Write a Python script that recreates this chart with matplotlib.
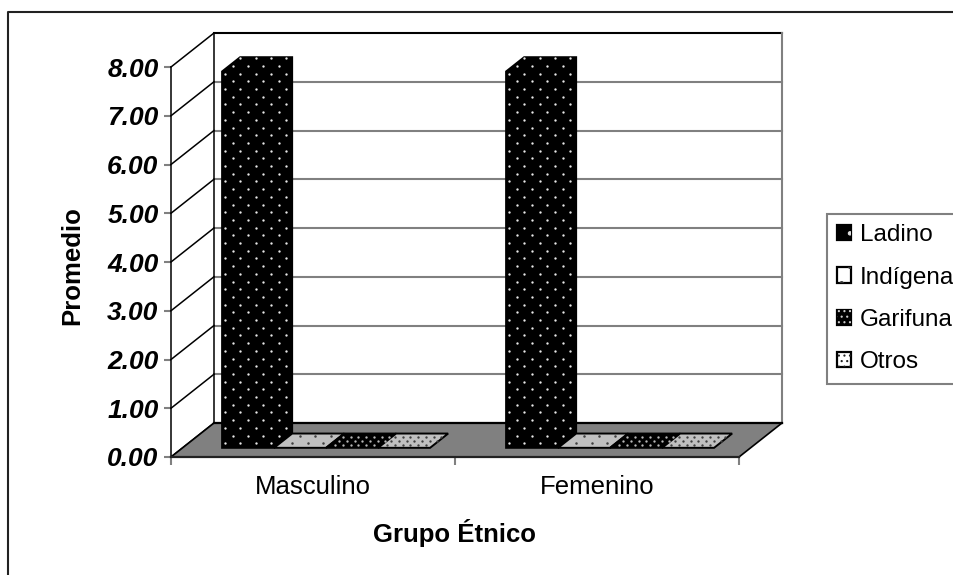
# -*- coding: utf-8 -*-

import numpy as np
import matplotlib
matplotlib.use("Agg")
import matplotlib.pyplot as plt
from matplotlib.legend_handler import HandlerTuple
from matplotlib.lines import Line2D
from matplotlib.patches import Patch, Polygon
from matplotlib.path import Path

plt.rcParams['font.family'] = ['Liberation Sans', 'DejaVu Sans']
plt.rcParams['hatch.linewidth'] = 0.8

categorias = ['Masculino', 'Femenino']
series = ['Ladino', 'Indígena', 'Garifuna', 'Otros']
ladino = [7.72, 7.72]
indigena = [0.0, 0.0]
garifuna = [0.0, 0.0]
otros = [0.0, 0.0]
valores = [ladino, indigena, garifuna, otros]
y_ticks = [0, 1, 2, 3, 4, 5, 6, 7, 8]

W, H = 954, 575
# caja frontal del grafico, en pixeles
X0, X1, Y0, Y1 = 171, 739, 457, 67
PX_X = (X1 - X0) / len(categorias)
PX_Y = (Y0 - Y1) / 8

# vector de profundidad de la perspectiva, en unidades de datos
DX = 43 / PX_X
DY = 34 / PX_Y

# posicion de las barras dentro de cada categoria
BAR_W = 52 / PX_X
BAR_START = 0.139
D_FRONT = 0.27
D_BACK = 0.69

# relleno y puntos de cada serie: cara, punto, paso x, paso y, grosor
estilos = [
    ('#000000', '#e8e8e8', 15.3, 7.7, 1.7),
    ('#c0c0c0', '#404040', 15.3, 7.7, 1.8),
    ('#000000', '#b8b8b8', 7.7, 4.2, 1.7),
    ('#c0c0c0', '#404040', 7.7, 4.2, 1.7),
]
hatches = ['.', '.', '...', '...']
colores_legend = ['#000000', '#ffffff', '#000000', '#ffffff']
colores_hatch = ['#dddddd', '#333333', '#cccccc', '#222222']


def proy(x, y, d):
    # punto (x, y) empujado hacia el fondo una fraccion d
    return (x + d * DX, y + d * DY)


def puntos(ax, poly, estilo):
    # reticula de puntos alternados dentro de un poligono
    _, color, paso_x, paso_y, grosor = estilo
    poly = np.array(poly)
    sx = paso_x / PX_X
    sy = paso_y / PX_Y
    ys = np.arange(poly[:, 1].min() + sy * 0.6, poly[:, 1].max(), sy)
    xs_all, ys_all = [], []
    for i, y in enumerate(ys):
        xs = np.arange(poly[:, 0].min() + sx * (0.2 + 0.5 * (i % 2)), poly[:, 0].max(), sx)
        xs_all.extend(xs)
        ys_all.extend([y] * len(xs))
    pts = np.column_stack([xs_all, ys_all])
    pts = pts[Path(poly).contains_points(pts)]
    ax.plot(pts[:, 0], pts[:, 1], ls='none', marker='o', ms=grosor, mew=0,
            color=color, clip_on=False, zorder=6)


def barra(ax, x, valor, estilo):
    cara = estilo[0]
    x2 = x + BAR_W
    if valor > 0:
        # cara frontal, lateral y superior
        contorno = [proy(x, 0, D_FRONT), proy(x2, 0, D_FRONT), proy(x2, 0, D_BACK),
                    proy(x2, valor, D_BACK), proy(x, valor, D_BACK), proy(x, valor, D_FRONT)]
    else:
        contorno = [proy(x, 0, D_FRONT), proy(x2, 0, D_FRONT), proy(x2, 0, D_BACK), proy(x, 0, D_BACK)]
    ax.add_patch(Polygon(contorno, closed=True, facecolor=cara, edgecolor='black',
                         lw=1.4, clip_on=False, zorder=5))
    puntos(ax, contorno, estilo)


fig = plt.figure(figsize=(W / 100, H / 100), dpi=100)
ax = fig.add_axes([X0 / W, 1 - Y0 / H, (X1 - X0) / W, (Y0 - Y1) / H])
ax.set_xlim(0, len(categorias))
ax.set_ylim(0, 8)
for s in ax.spines.values():
    s.set_visible(False)
ax.patch.set_visible(False)

# marco exterior
fig.add_artist(Line2D([8 / W, 8 / W, 1], [0, 1 - 12 / H, 1 - 12 / H], color='#222222', lw=1.5))

# lineas de division en la pared del fondo y la lateral
xn = len(categorias)
for v in y_ticks:
    color = 'black' if v == 8 else '#808080'
    ax.plot([DX, xn + DX], [v + DY, v + DY], color=color, lw=1.5, clip_on=False, zorder=1)
    ax.plot([0, DX], [v, v + DY], color='black', lw=1.1, clip_on=False, zorder=2)
ax.plot([DX, DX], [DY, 8 + DY], color='black', lw=1.1, clip_on=False, zorder=2)
ax.plot([0, 0], [0, 8], color='black', lw=1.1, clip_on=False, zorder=2)
ax.plot([xn + DX, xn + DX], [DY, 8 + DY], color='#808080', lw=1.5, clip_on=False, zorder=2)

# piso gris
piso = [(0, 0), (DX, DY), (xn + DX, DY), (xn, 0)]
ax.add_patch(Polygon(piso, closed=True, facecolor='#808080', edgecolor='none',
                     clip_on=False, zorder=3))
ax.plot([DX, xn + DX], [DY, DY], color='black', lw=1.6, clip_on=False, zorder=4)
ax.plot([0, DX], [0, DY], color='black', lw=1.2, clip_on=False, zorder=4)
ax.plot([xn, xn + DX], [0, DY], color='black', lw=1.2, clip_on=False, zorder=4)
ax.plot([0, xn], [0, 0], color='#222222', lw=1.6, clip_on=False, zorder=4)

for i in range(len(categorias)):
    for j, vals in enumerate(valores):
        barra(ax, i + BAR_START + j * BAR_W, vals[i], estilos[j])

# ejes
ax.set_yticks(y_ticks)
ax.set_yticklabels(['%.2f' % v for v in y_ticks], fontsize=19, fontweight='bold', fontstyle='italic')
ax.tick_params(axis='y', length=5, width=1.5, color='#808080', pad=4)
ax.set_xticks(range(len(categorias) + 1))
ax.set_xticklabels([])
ax.set_xticks([i + 0.5 for i in range(len(categorias))], minor=True)
ax.set_xticklabels(categorias, minor=True, fontsize=18.5)
ax.tick_params(axis='x', which='major', length=6, width=1.5, color='#808080')
ax.tick_params(axis='x', which='minor', length=0, pad=13)

ax.set_ylabel('Promedio', fontsize=18.5, fontweight='bold', va='center')
ax.yaxis.set_label_coords((72 - X0) / (X1 - X0), (Y0 - 266) / (Y0 - Y1))
ax.set_xlabel('Grupo Étnico', fontsize=18.5, fontweight='bold', va='center')
ax.xaxis.set_label_coords(0.5, (Y0 - 533) / (Y0 - Y1))

# cada muestra de la leyenda es un cuadro con los puntos encima
handles = []
for k in range(len(series)):
    fondo = Patch(facecolor=colores_legend[k], edgecolor='black', lw=1.6)
    trama = Patch(facecolor='none', edgecolor=colores_hatch[k], hatch=hatches[k], lw=0)
    handles.append((fondo, trama))
leg = fig.legend(handles, series, loc='upper left', bbox_to_anchor=(827 / W, 1 - 214 / H),
                 borderaxespad=0, fontsize=17.5, fancybox=False, edgecolor='#808080',
                 framealpha=1, handlelength=0.58, handleheight=0.58, handletextpad=0.34,
                 labelspacing=0.84, borderpad=0.42,
                 handler_map={tuple: HandlerTuple(ndivide=1, pad=0)})
leg.get_frame().set_linewidth(1.5)

fig.savefig('out.png', dpi=100)
